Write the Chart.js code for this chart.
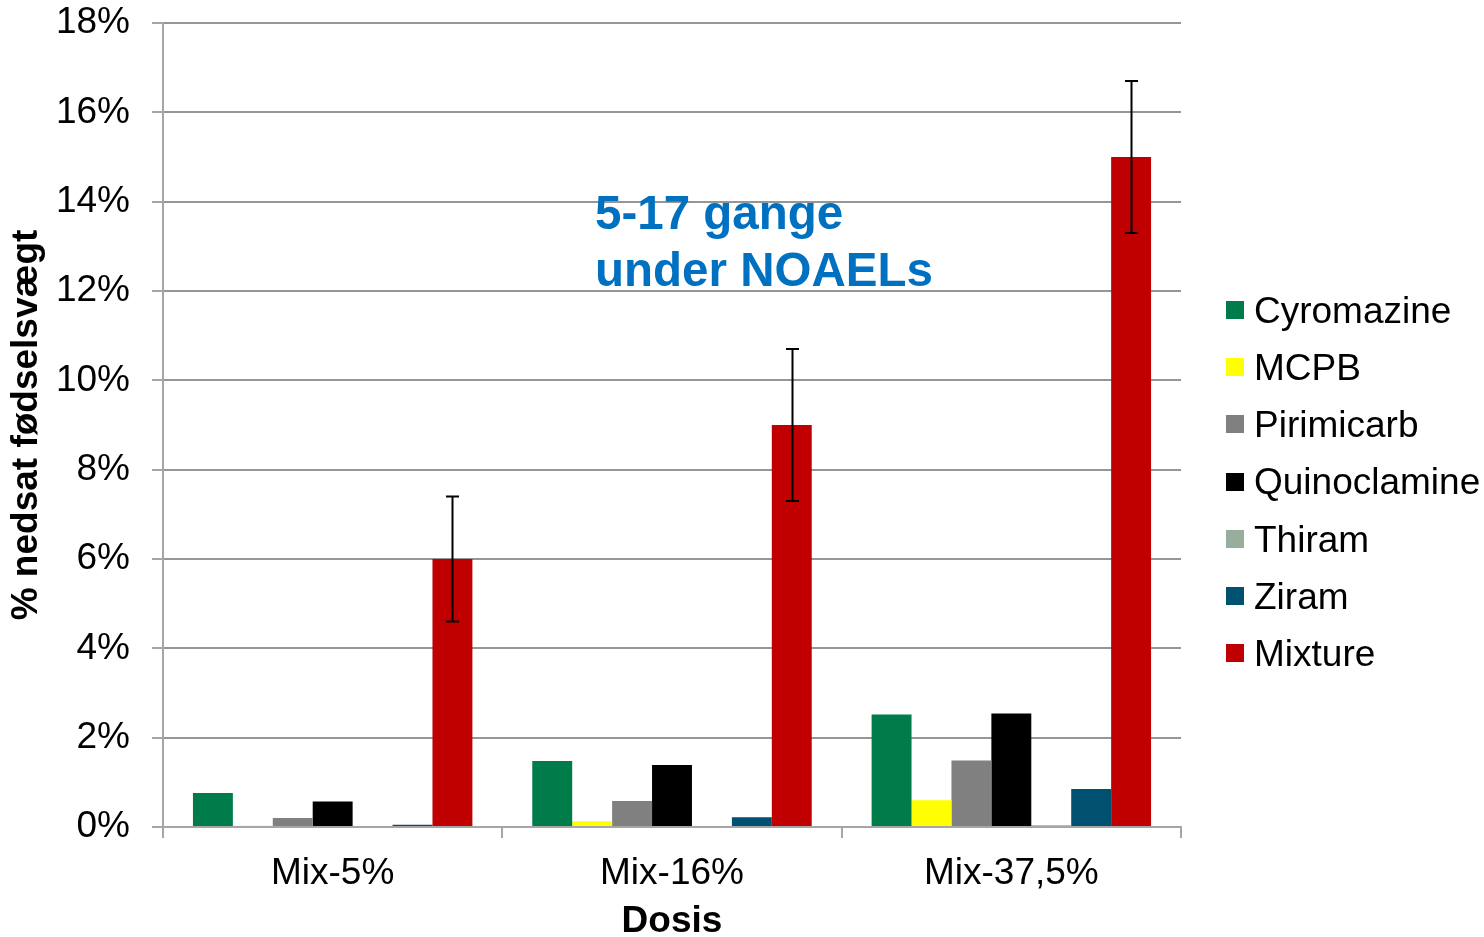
<!DOCTYPE html>
<html>
<head>
<meta charset="utf-8">
<script src="https://cdn.jsdelivr.net/npm/chart.js@4/dist/chart.umd.min.js"></script>
<style>
  html, body { margin: 0; padding: 0; background: #ffffff; }
  #c { display: block; }
</style>
</head>
<body>
<canvas id="c" width="1484" height="937" style="width:1484px;height:937px"></canvas>
<script>
// ---- data (values in %) ----
const categories = ['Mix-5%', 'Mix-16%', 'Mix-37,5%'];
const seriesNames = ['Cyromazine', 'MCPB', 'Pirimicarb', 'Quinoclamine', 'Thiram', 'Ziram', 'Mixture'];
const cyromazine   = [0.76, 1.48, 2.52];
const mcpb         = [0.03, 0.13, 0.60];
const pirimicarb   = [0.20, 0.58, 1.49];
const quinoclamine = [0.57, 1.39, 2.54];
const thiram       = [0.00, 0.00, 0.04];
const ziram        = [0.05, 0.22, 0.85];
const mixture      = [6.0, 9.0, 15.0];
const mixtureError = [1.4, 1.7, 1.7];
const yTicks = [0, 2, 4, 6, 8, 10, 12, 14, 16, 18];
const yTickLabels = ['0%', '2%', '4%', '6%', '8%', '10%', '12%', '14%', '16%', '18%'];
const annotationLines = ['5-17 gange', 'under NOAELs'];
const yTitle = '% nedsat fødselsvægt';
const xTitle = 'Dosis';

const colors = ['#007B4A', '#FFFF00', '#808080', '#000000', '#96AE9B', '#00506F', '#C00000'];
const seriesValues = [cyromazine, mcpb, pirimicarb, quinoclamine, thiram, ziram, mixture];

const FONT = "'Liberation Sans', Arial, sans-serif";
const FS = 37;

const datasets = seriesNames.map((name, i) => ({
  label: name,
  data: seriesValues[i],
  backgroundColor: colors[i],
  borderWidth: 0,
  categoryPercentage: 280 / 340,
  barPercentage: 1.0
}));

const errorBarPlugin = {
  id: 'errorBars',
  afterDatasetsDraw(chart) {
    const idx = seriesNames.indexOf('Mixture');
    const meta = chart.getDatasetMeta(idx);
    const ys = chart.scales.y;
    const ctx = chart.ctx;
    ctx.save();
    ctx.strokeStyle = '#000000';
    ctx.lineWidth = 2;
    meta.data.forEach((bar, j) => {
      const v = mixture[j], e = mixtureError[j];
      const x = Math.round(bar.x) + 0.5;
      const yt = ys.getPixelForValue(v + e);
      const yb = ys.getPixelForValue(v - e);
      ctx.beginPath();
      ctx.moveTo(x, yt); ctx.lineTo(x, yb);
      ctx.moveTo(x - 6.5, yt); ctx.lineTo(x + 6.5, yt);
      ctx.moveTo(x - 6.5, yb); ctx.lineTo(x + 6.5, yb);
      ctx.stroke();
    });
    ctx.restore();
  }
};

const annotationPlugin = {
  id: 'annot',
  afterDraw(chart) {
    const ctx = chart.ctx;
    ctx.save();
    ctx.fillStyle = '#0070C0';
    ctx.font = "bold 47.5px " + FONT;
    ctx.textAlign = 'left';
    ctx.textBaseline = 'alphabetic';
    ctx.fillText(annotationLines[0], 595, 229);
    ctx.fillText(annotationLines[1], 595, 286);
    ctx.restore();
  }
};

const legendPlugin = {
  id: 'customLegend',
  afterDraw(chart) {
    const ctx = chart.ctx;
    ctx.save();
    ctx.font = FS + "px " + FONT;
    ctx.textAlign = 'left';
    ctx.textBaseline = 'middle';
    chart.data.datasets.forEach((ds, i) => {
      const top = 301 + i * 57.2;
      ctx.fillStyle = ds.backgroundColor;
      ctx.fillRect(1226, Math.round(top), 18, 18);
      ctx.fillStyle = '#000000';
      ctx.fillText(ds.label, 1254, top + 11.5);
    });
    ctx.restore();
  }
};

new Chart(document.getElementById('c'), {
  type: 'bar',
  data: { labels: categories, datasets },
  options: {
    responsive: false,
    animation: false,
    devicePixelRatio: 1,
    layout: { padding: { top: 23, left: 0, right: 303, bottom: 0 } },
    plugins: {
      legend: { display: false },
      tooltip: { enabled: false }
    },
    scales: {
      x: {
        offset: true,
        grid: {
          display: true,
          drawOnChartArea: false,
          drawTicks: true,
          offset: true,
          tickLength: 11,
          color: '#A6A6A6',
          lineWidth: 2
        },
        border: { display: true, color: '#A6A6A6', width: 2 },
        ticks: {
          color: '#000000',
          font: { family: FONT, size: FS },
          padding: 14,
          maxRotation: 0,
          autoSkip: false
        },
        title: {
          display: true,
          text: xTitle,
          color: '#000000',
          font: { family: FONT, size: FS, weight: 'bold', lineHeight: 0.8 },
          padding: { top: 0, bottom: 0 }
        },
        afterFit(scale) {
          scale.height = 110;
          scale.paddingLeft = 0; scale.paddingRight = 0;
        }
      },
      y: {
        min: 0,
        max: 18,
        afterBuildTicks(scale) { scale.ticks = yTicks.map(v => ({ value: v })); },
        grid: {
          color: '#969696',
          lineWidth: 2,
          tickLength: 11,
          tickColor: '#A6A6A6'
        },
        border: { display: true, color: '#A6A6A6', width: 2 },
        ticks: {
          color: '#000000',
          font: { family: FONT, size: FS },
          padding: 22,
          callback: (v) => yTickLabels[yTicks.indexOf(v)]
        },
        title: {
          display: true,
          text: yTitle,
          color: '#000000',
          font: { family: FONT, size: FS, weight: 'bold', lineHeight: 1.2 },
          padding: { top: 5, bottom: 0 }
        },
        afterFit(scale) {
          scale.width = 163;
          scale.paddingTop = 0; scale.paddingBottom = 0;
        }
      }
    }
  },
  plugins: [errorBarPlugin, annotationPlugin, legendPlugin]
});
</script>
</body>
</html>
